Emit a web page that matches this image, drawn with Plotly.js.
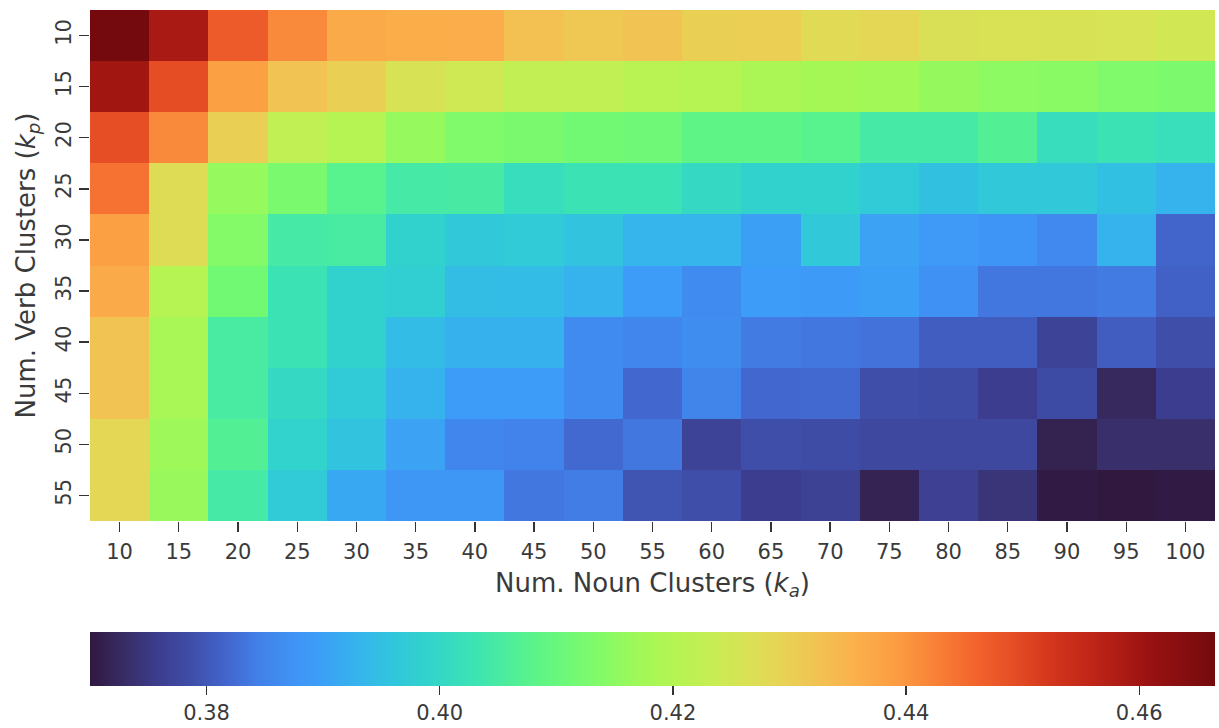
<!DOCTYPE html>
<html>
<head>
<meta charset="utf-8">
<script src="https://cdn.plot.ly/plotly-3.0.1.min.js"></script>
<style>html,body{margin:0;padding:0;background:#fff;}#chart{width:1219px;height:728px;}</style>
</head>
<body>
<div id="chart"></div>
<script>
// Noun cluster counts (columns)
const nounClusters = [10, 15, 20, 25, 30, 35, 40, 45, 50, 55, 60, 65, 70, 75, 80, 85, 90, 95, 100];
// Verb cluster counts (rows)
const verbClusters = [10, 15, 20, 25, 30, 35, 40, 45, 50, 55];

// Row values, one array per verb-cluster row
const row10 = [0.4665, 0.4588, 0.4472, 0.4414, 0.4366, 0.4362, 0.4361, 0.4327, 0.4313, 0.4322, 0.4298, 0.4300, 0.4279, 0.4284, 0.4265, 0.4264, 0.4260, 0.4258, 0.4250];
const row15 = [0.4597, 0.4491, 0.4385, 0.4322, 0.4298, 0.4260, 0.4245, 0.4226, 0.4221, 0.4207, 0.4202, 0.4187, 0.4178, 0.4173, 0.4158, 0.4149, 0.4146, 0.4134, 0.4129];
const row20 = [0.4490, 0.4414, 0.4298, 0.4221, 0.4202, 0.4160, 0.4134, 0.4125, 0.4115, 0.4110, 0.4086, 0.4086, 0.4076, 0.4047, 0.4047, 0.4067, 0.4014, 0.4028, 0.4018];
const row25 = [0.4443, 0.4274, 0.4160, 0.4125, 0.4076, 0.4047, 0.4049, 0.4014, 0.4028, 0.4028, 0.4004, 0.3985, 0.3985, 0.3970, 0.3951, 0.3965, 0.3965, 0.3950, 0.3927];
const row30 = [0.4385, 0.4274, 0.4139, 0.4047, 0.4052, 0.3985, 0.3965, 0.3970, 0.3956, 0.3932, 0.3932, 0.3898, 0.3965, 0.3903, 0.3888, 0.3879, 0.3859, 0.3927, 0.3816];
const row35 = [0.4366, 0.4202, 0.4115, 0.4028, 0.3985, 0.3980, 0.3946, 0.3944, 0.3927, 0.3893, 0.3862, 0.3893, 0.3890, 0.3898, 0.3872, 0.3835, 0.3835, 0.3840, 0.3811];
const row40 = [0.4322, 0.4183, 0.4052, 0.4028, 0.3985, 0.3944, 0.3924, 0.3924, 0.3862, 0.3854, 0.3864, 0.3840, 0.3835, 0.3830, 0.3806, 0.3806, 0.3768, 0.3806, 0.3787];
const row45 = [0.4322, 0.4183, 0.4052, 0.4004, 0.3970, 0.3927, 0.3893, 0.3893, 0.3862, 0.3818, 0.3852, 0.3818, 0.3820, 0.3787, 0.3784, 0.3758, 0.3782, 0.3724, 0.3758];
const row50 = [0.4284, 0.4168, 0.4067, 0.3990, 0.3956, 0.3903, 0.3854, 0.3850, 0.3820, 0.3835, 0.3768, 0.3787, 0.3784, 0.3777, 0.3777, 0.3777, 0.3714, 0.3734, 0.3734];
const row55 = [0.4284, 0.4163, 0.4047, 0.3970, 0.3912, 0.3883, 0.3883, 0.3835, 0.3842, 0.3794, 0.3787, 0.3758, 0.3766, 0.3716, 0.3763, 0.3743, 0.3703, 0.3700, 0.3705];

const colorbarTicks = [0.38, 0.40, 0.42, 0.44, 0.46];
const colorbarTickText = ['0.38', '0.40', '0.42', '0.44', '0.46'];

const zValues = [row10, row15, row20, row25, row30, row35, row40, row45, row50, row55];
const allVals = zValues.flat();

// turbo-like colour ramp, as it appears in the reference
const colorscale = [
  [0.00, '#30183f'], [0.03, '#382c64'], [0.06, '#3c3d8e'], [0.09, '#3f4ea8'],
  [0.12, '#4265cc'], [0.15, '#4280e8'], [0.18, '#3f93f4'], [0.20, '#3d9cf7'],
  [0.24, '#35b5ec'], [0.27, '#31c6dc'], [0.30, '#31d3cc'], [0.34, '#3be3b4'],
  [0.40, '#5ef586'], [0.43, '#72f974'], [0.46, '#88fa65'], [0.49, '#a2f857'],
  [0.52, '#b5f453'], [0.55, '#c5ee53'], [0.58, '#d7e355'], [0.61, '#e6d555'],
  [0.64, '#efc653'], [0.68, '#fbb04c'], [0.72, '#fc9a41'], [0.76, '#f77a35'],
  [0.79, '#f2622c'], [0.82, '#e54e25'], [0.85, '#d5381d'], [0.88, '#c52a19'],
  [0.91, '#b11e15'], [0.94, '#9a1211'], [1.00, '#740a0e']
];

const textColor = '#3a3a3a';
const fontFam = 'DejaVu Sans, sans-serif';
const tickSize = 21;
const titleSize = 26;

const trace = {
  type: 'heatmap',
  x: nounClusters.map(String),
  y: verbClusters.map(String),
  z: zValues,
  colorscale: colorscale,
  zmin: Math.min(...allVals),
  zmax: Math.max(...allVals),
  xgap: 0, ygap: 0,
  colorbar: {
    orientation: 'h',
    x: 0, xanchor: 'left', xref: 'paper',
    y: -0.2148, yanchor: 'top',
    len: 1, lenmode: 'fraction',
    thickness: 54, thicknessmode: 'pixels',
    xpad: 0, ypad: 0,
    outlinewidth: 0,
    tickvals: colorbarTicks,
    ticktext: colorbarTickText,
    ticks: 'outside', ticklen: 9, tickwidth: 1.3, tickcolor: '#333',
    ticklabelstandoff: 6,
    tickfont: {family: fontFam, size: tickSize, color: textColor}
  }
};

const layout = {
  width: 1219, height: 728,
  margin: {l: 90, r: 4, t: 10, b: 206},
  paper_bgcolor: '#fff', plot_bgcolor: '#fff',
  font: {family: fontFam, size: tickSize, color: textColor},
  xaxis: {
    type: 'category',
    ticks: 'outside', ticklen: 10, tickwidth: 1.3, tickcolor: '#333',
    ticklabelstandoff: 2,
    showgrid: false, zeroline: false, showline: false,
    tickfont: {family: fontFam, size: tickSize, color: textColor},
    title: {text: 'Num. Noun Clusters (<i>k</i><sub><i>a</i></sub>)', font: {family: fontFam, size: titleSize, color: textColor}, standoff: 10}
  },
  yaxis: {
    type: 'category',
    autorange: 'reversed',
    ticks: 'outside', ticklen: 10, tickwidth: 1.3, tickcolor: '#333',
    tickangle: -90,
    showgrid: false, zeroline: false, showline: false,
    tickfont: {family: fontFam, size: tickSize, color: textColor},
    title: {text: 'Num. Verb Clusters (<i>k</i><sub><i>p</i></sub>)', font: {family: fontFam, size: titleSize, color: textColor}, standoff: 8}
  }
};

Plotly.newPlot('chart', [trace], layout, {displayModeBar: false, staticPlot: true});
</script>
</body>
</html>
